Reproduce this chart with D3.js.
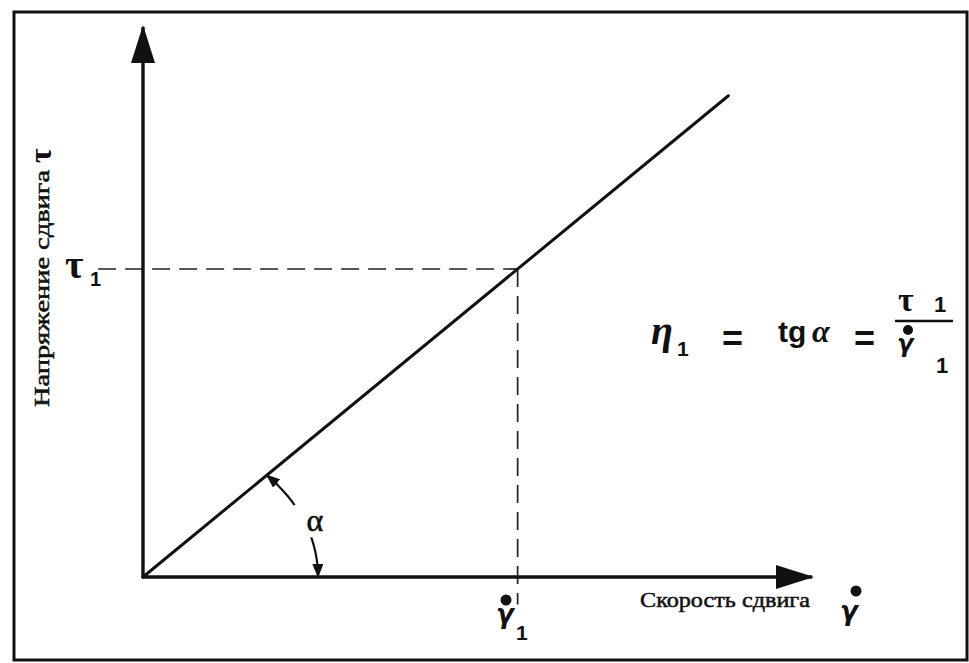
<!DOCTYPE html>
<html lang="ru">
  <head>
    <meta charset="utf-8">
    <title>Напряжение сдвига</title>
    <script src="https://d3js.org/d3.v7.min.js"></script>
    <style>
      body { margin: 0; background: #fff; }
      svg { display: block; }
    </style>
  </head>
  <body>
    <script type="text/javascript">
      var w = 969;
      var h = 663;

      // data (chart units)
      var axisEnd = [10, 10];          // x, y arrow tips
      var lineX = [0, 8.75];           // shear line
      var lineY = [0, 8.75];
      var point1 = [5.6, 5.6];         // gamma1, tau1
      var hGuideX = [-0.67, 5.6];      // dashed to tau1
      var vGuideY = [5.6, -0.5];       // dashed to gamma1
      var arcRadius = 2.616;
      var arcUpper = [45, 30];         // degrees, arrow at line end
      var arcLower = [16, 0];          // degrees, arrow at axis end

      var svg = d3.select("body")
        .append("svg")
        .attr("width", w)
        .attr("height", h);

      var xScale = d3.scaleLinear().domain([0, 10]).range([143, 812]);
      var yScale = d3.scaleLinear().domain([0, 10]).range([577, 27]);

      // frame
      svg.append("rect")
        .attr("x", 14).attr("y", 12)
        .attr("width", 953).attr("height", 648)
        .attr("fill", "#fff")
        .attr("stroke", "#111")
        .attr("stroke-width", 3);

      var defs = svg.append("defs");
      defs.append("marker")
        .attr("id", "bigArrow")
        .attr("viewBox", "0 0 38 24")
        .attr("refX", 36).attr("refY", 12)
        .attr("markerWidth", 38).attr("markerHeight", 24)
        .attr("markerUnits", "userSpaceOnUse")
        .attr("orient", "auto")
        .append("path")
        .attr("d", "M0,0 L38,12 L0,24 Z")
        .attr("fill", "#111");
      defs.append("marker")
        .attr("id", "smallArrow")
        .attr("viewBox", "0 0 14 11")
        .attr("refX", 13).attr("refY", 5.5)
        .attr("markerWidth", 14).attr("markerHeight", 11)
        .attr("markerUnits", "userSpaceOnUse")
        .attr("orient", "auto-start-reverse")
        .append("path")
        .attr("d", "M0,0 L14,5.5 L0,11 Z")
        .attr("fill", "#111");

      // dashed guides
      svg.append("line")
        .attr("x1", xScale(hGuideX[0])).attr("y1", yScale(point1[1]))
        .attr("x2", xScale(hGuideX[1])).attr("y2", yScale(point1[1]))
        .attr("stroke", "#222").attr("stroke-width", 1.7)
        .attr("stroke-dasharray", "18,9");
      svg.append("line")
        .attr("x1", xScale(point1[0])).attr("y1", yScale(vGuideY[0]))
        .attr("x2", xScale(point1[0])).attr("y2", yScale(vGuideY[1]))
        .attr("stroke", "#222").attr("stroke-width", 1.7)
        .attr("stroke-dasharray", "18,9");

      // axes
      svg.append("line")
        .attr("x1", xScale(0)).attr("y1", yScale(0))
        .attr("x2", xScale(0)).attr("y2", yScale(axisEnd[1]))
        .attr("stroke", "#111").attr("stroke-width", 3.4)
        .attr("marker-end", "url(#bigArrow)");
      svg.append("line")
        .attr("x1", xScale(0) - 1.5).attr("y1", yScale(0))
        .attr("x2", xScale(axisEnd[0])).attr("y2", yScale(0))
        .attr("stroke", "#111").attr("stroke-width", 3.4)
        .attr("marker-end", "url(#bigArrow)");

      // shear line
      var line = d3.line()
        .x(function(d) { return xScale(d[0]); })
        .y(function(d) { return yScale(d[1]); });
      svg.append("path")
        .datum(d3.zip(lineX, lineY))
        .attr("d", line)
        .attr("fill", "none")
        .attr("stroke", "#111")
        .attr("stroke-width", 3)
        .attr("stroke-linecap", "round");

      // angle arc pieces
      function arcPts(a) {
        return d3.range(a[0], a[1] - 0.5, -1).map(function(deg) {
          var r = deg * Math.PI / 180;
          return [arcRadius * Math.cos(r), arcRadius * Math.sin(r)];
        });
      }
      svg.append("path")
        .datum(arcPts(arcUpper))
        .attr("d", line)
        .attr("fill", "none").attr("stroke", "#111").attr("stroke-width", 2.2)
        .attr("marker-start", "url(#smallArrow)");
      svg.append("path")
        .datum(arcPts(arcLower))
        .attr("d", line)
        .attr("fill", "none").attr("stroke", "#111").attr("stroke-width", 2.2)
        .attr("marker-end", "url(#smallArrow)");

      var serif = "Liberation Serif";
      var sans = "Liberation Sans";
      var greek = "DejaVu Sans";
      function txt(x, y, s, size, family, weight, style) {
        return svg.append("text")
          .attr("x", x).attr("y", y)
          .attr("font-family", family)
          .attr("font-size", size)
          .attr("font-weight", weight || "normal")
          .attr("font-style", style || "normal")
          .attr("fill", "#111")
          .text(s);
      }

      txt(315, 531, "α", 32, serif)
        .attr("text-anchor", "middle")
        .attr("stroke", "#111").attr("stroke-width", 0.6);

      // y axis label
      svg.append("text")
        .attr("transform", "translate(49,407) rotate(-90)")
        .attr("font-family", serif)
        .attr("font-size", 21)
        .attr("textLength", 237)
        .attr("lengthAdjust", "spacingAndGlyphs")
        .attr("fill", "#111")
        .attr("stroke", "#111").attr("stroke-width", 0.5)
        .text("Напряжение сдвига");
      svg.append("text")
        .attr("transform", "translate(51,163) rotate(-90)")
        .attr("font-family", serif)
        .attr("font-size", 32)
        .attr("font-weight", "bold")
        .attr("fill", "#111")
        .text("τ");

      // x axis label
      svg.append("text")
        .attr("x", 640).attr("y", 607)
        .attr("font-family", serif)
        .attr("font-size", 21)
        .attr("textLength", 170)
        .attr("lengthAdjust", "spacingAndGlyphs")
        .attr("fill", "#111")
        .attr("stroke", "#111").attr("stroke-width", 0.5)
        .text("Скорость сдвига");
      txt(840, 620, "γ", 26, greek, "bold", "italic");
      svg.append("circle").attr("cx", 856).attr("cy", 591).attr("r", 5.5).attr("fill", "#111");

      // tau1 label
      txt(65, 278, "τ", 40, serif, "bold");
      txt(90, 286, "1", 20, sans, "bold");

      // gamma1 label
      svg.append("circle").attr("cx", 506).attr("cy", 600).attr("r", 5.5).attr("fill", "#111");
      txt(496, 623, "γ", 26, greek, "bold", "italic");
      txt(516, 640, "1", 21, sans, "bold");

      // formula
      txt(651, 344, "η", 40, serif, "bold", "italic");
      txt(677, 356, "1", 21, sans, "bold");
      txt(722, 351, "=", 36, sans, "bold");
      txt(778, 342, "tg", 30, sans, "bold");
      txt(812, 342, "α", 32, serif, "bold", "italic");
      txt(854, 351, "=", 36, sans, "bold");
      txt(898, 311, "τ", 34, serif, "bold");
      txt(934, 312, "1", 22, sans, "bold");
      svg.append("line")
        .attr("x1", 895).attr("y1", 321).attr("x2", 953).attr("y2", 321)
        .attr("stroke", "#111").attr("stroke-width", 2.5);
      svg.append("circle").attr("cx", 908).attr("cy", 330).attr("r", 5).attr("fill", "#111");
      txt(897, 352, "γ", 24, greek, "bold", "italic");
      txt(936, 373, "1", 22, sans, "bold");
    </script>
  </body>
</html>
